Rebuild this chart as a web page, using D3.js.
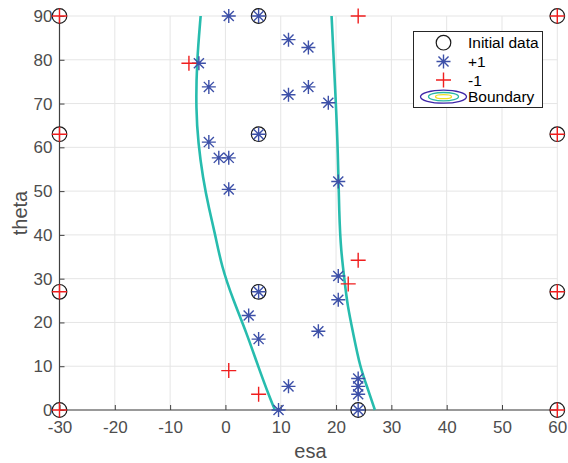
<!DOCTYPE html>
<html><head><meta charset="utf-8">
<script src="https://cdn.jsdelivr.net/npm/d3@7"></script>
<style>
html,body{margin:0;padding:0;background:#fff;}
svg{display:block;font-family:"Liberation Sans",Arial,Helvetica,sans-serif;}
</style></head>
<body><svg id="c" width="568" height="463"></svg>
<script>
// ---- data ----
const xTicks = [-30,-20,-10,0,10,20,30,40,50,60];
const yTicks = [0,10,20,30,40,50,60,70,80,90];
const initialEsa   = [-30,-30,-30,-30,60,60,60,60,6,6,6,24];
const initialTheta = [0,27,63,90,0,27,63,90,90,63,27,0];
const plusEsa   = [0.6,6,11.4,15,-4.8,-3,11.4,15,18.6,6,-3,-1.2,0.6,0.6,20.4,20.4,20.4,6,4.2,6,16.8,11.4,9.6,24,24,24,24];
const plusTheta = [90,90,84.6,82.8,79.2,73.8,72,73.8,70.2,63,61.2,57.6,57.6,50.4,52.2,30.6,25.2,27,21.6,16.2,18,5.4,0,0,3.6,5.4,7.2];
const minusEsa   = [-30,-30,-30,-30,60,60,60,60,24,-6.6,24,22.2,0.6,6];
const minusTheta = [0,27,63,90,0,27,63,90,90,79.2,34.2,28.8,9,3.6];
const leftBoundEsa   = [-4.48,-5.2,-5.33,-4.91,-4.12,-2.93,-1.9,-0.68,1.41,3.83,5.93,8.17,8.95];
const leftBoundTheta = [90,79.2,68.5,60.9,53.3,45.7,40.4,32.7,25.1,17.6,9.9,2.3,0];
const rightBoundEsa   = [19.19,19.97,20.33,20.57,20.88,21.6,22.05,23.1,24.31,25.81,27.02];
const rightBoundTheta = [90,70.1,59.4,44.3,36.5,28.9,24.0,17.5,9.9,4.6,0];
const legendLabels = ["Initial data","+1","-1","Boundary"];

// ---- layout ----
const svg = d3.select("#c");
const L=59.5, R=557.3, T=16, B=410;
const x = d3.scaleLinear().domain([-30,60]).range([L,R]);
const y = d3.scaleLinear().domain([0,90]).range([B,T]);
const tickCol="#4d4d4d";

// grid
const g = svg.append("g");
g.selectAll(".gx").data(xTicks).enter().append("line")
  .attr("x1",d=>x(d)).attr("x2",d=>x(d)).attr("y1",T).attr("y2",B)
  .attr("stroke","#e5e5e5").attr("stroke-width",1);
g.selectAll(".gy").data(yTicks).enter().append("line")
  .attr("x1",L).attr("x2",R).attr("y1",d=>y(d)).attr("y2",d=>y(d))
  .attr("stroke","#e5e5e5").attr("stroke-width",1);

// axes
const xAxis = d3.axisBottom(x).tickValues(xTicks).tickSize(-5).tickPadding(11).tickFormat(d=>String(d));
const yAxis = d3.axisLeft(y).tickValues(yTicks).tickSize(-5).tickPadding(7).tickFormat(d=>String(d));
const gx = svg.append("g").attr("transform",`translate(0,${B})`).call(xAxis);
const gy = svg.append("g").attr("transform",`translate(${L},0)`).call(yAxis);
[gx,gy].forEach(a=>{
  a.select(".domain").attr("stroke","#404040").attr("stroke-width",1.2);
  a.selectAll(".tick line").attr("stroke","#404040");
  a.selectAll(".tick text").attr("fill",tickCol).style("font-size","17px").style("font-family","'Liberation Sans',Arial,sans-serif");
});
gx.select(".domain").attr("d",`M${L},0H${R}`);
gy.select(".domain").attr("d",`M0,${B}V${T}`);

// axis labels
svg.append("text").attr("x",(L+R)/2+2).attr("y",458).attr("text-anchor","middle")
  .attr("fill",tickCol).style("font-size","20px").text("esa");
svg.append("text").attr("transform",`translate(27,${(T+B)/2}) rotate(-90)`).attr("text-anchor","middle")
  .attr("fill",tickCol).style("font-size","20px").text("theta");

// boundaries
const bcol="#27bcae";
const line = d3.line().x(d=>x(d[0])).y(d=>y(d[1])).curve(d3.curveBasis);
svg.append("path").datum(leftBoundEsa.map((v,i)=>[v,leftBoundTheta[i]]))
  .attr("d",line).attr("fill","none").attr("stroke",bcol).attr("stroke-width",2.6);
svg.append("path").datum(rightBoundEsa.map((v,i)=>[v,rightBoundTheta[i]]))
  .attr("d",line).attr("fill","none").attr("stroke",bcol).attr("stroke-width",2.6);

// markers
const starCol="#3d50a8", redCol="#f01e1e";
function star(sel, cx, cy, h){
  const d = h*0.72;
  const p = `M${cx-h},${cy}H${cx+h}M${cx},${cy-h}V${cy+h}M${cx-d},${cy-d}L${cx+d},${cy+d}M${cx-d},${cy+d}L${cx+d},${cy-d}`;
  sel.append("path").attr("d",p).attr("stroke",starCol).attr("stroke-width",1.4).attr("fill","none");
}
function plus(sel, cx, cy, h){
  sel.append("path").attr("d",`M${cx-h},${cy}H${cx+h}M${cx},${cy-h}V${cy+h}`)
    .attr("stroke",redCol).attr("stroke-width",1.4).attr("fill","none");
}
const mk = svg.append("g");
initialEsa.forEach((v,i)=>{
  mk.append("circle").attr("cx",x(v)).attr("cy",y(initialTheta[i])).attr("r",7.3)
    .attr("fill","none").attr("stroke","#1a1a1a").attr("stroke-width",1.2);
});
plusEsa.forEach((v,i)=>star(mk, x(v), y(plusTheta[i]), 7));
minusEsa.forEach((v,i)=>plus(mk, x(minusEsa[i]), y(minusTheta[i]), 7.5));

// legend
const lg = svg.append("g");
lg.append("rect").attr("x",413.5).attr("y",31.5).attr("width",129).attr("height",76)
  .attr("fill","#fff").attr("stroke","#262626").attr("stroke-width",1);
const ly=[42.7,61.5,80,96.7];
lg.append("circle").attr("cx",443.5).attr("cy",ly[0]).attr("r",7.3).attr("fill","none").attr("stroke","#1a1a1a").attr("stroke-width",1.2);
star(lg,443.5,ly[1],7);
plus(lg,443.5,ly[2],7.5);
lg.append("ellipse").attr("cx",443.5).attr("cy",ly[3]).attr("rx",23).attr("ry",6.5).attr("fill","none").attr("stroke","#3e26a8").attr("stroke-width",1.3);
lg.append("ellipse").attr("cx",443.5).attr("cy",ly[3]).attr("rx",15).attr("ry",4.2).attr("fill","none").attr("stroke","#2ab7a5").attr("stroke-width",1.3);
lg.append("ellipse").attr("cx",443.5).attr("cy",ly[3]).attr("rx",8).attr("ry",2).attr("fill","none").attr("stroke","#f0e020").attr("stroke-width",1.3);
lg.selectAll(".lt").data(legendLabels).enter().append("text")
  .attr("x",468).attr("y",(d,i)=>ly[i]+5.5).attr("fill","#000").style("font-size","15.5px").text(d=>d);
</script></body></html>
